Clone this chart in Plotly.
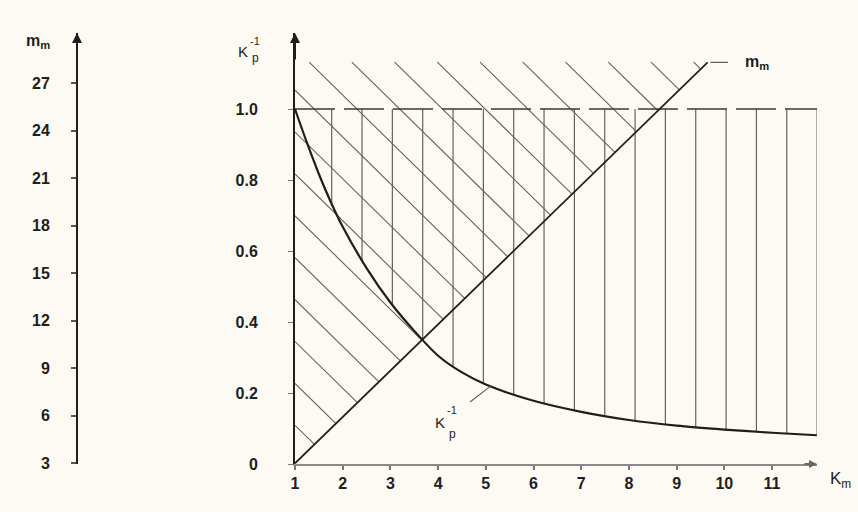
import numpy as np
import plotly.graph_objects as go

# ---------------- data ----------------
km_ticks = [1, 2, 3, 4, 5, 6, 7, 8, 9, 10, 11]
kp_ticks = [0, 0.2, 0.4, 0.6, 0.8, 1.0]
kp_ticktext = ["0", "0.2", "0.4", "0.6", "0.8", "1.0"]
mm_ticks = [3, 6, 9, 12, 15, 18, 21, 24, 27]

# K_p^-1 curve
curve_k = [1, 1.25, 1.5, 1.75, 2, 2.5, 3, 3.5, 4, 4.5, 5, 6, 7, 8, 9, 10, 11, 11.94]
curve_v = [1.0, 0.905, 0.817, 0.738, 0.668, 0.552, 0.455, 0.375, 0.305, 0.258, 0.224,
           0.178, 0.147, 0.124, 0.108, 0.097, 0.088, 0.081]

# m_m line (left axis units)
mline_k = [1, 9.65]
mline_m = [3, 28.3]

# hatching parameters
vert_start, vert_step, vert_count = 1.769, 0.636, 17
diag_slope, diag_c0, diag_step, diag_top = 0.1317, 1.171, 0.118, 1.132
dash_level = 1.0

# ---------------- layout geometry ----------------
W, H = 858, 512
ML, MR, MT, MB = 77, 41, 33, 48
x_range = [1, 11.943]
y_range = [0, 1.2141]
y2_range = [2.956, 30.16]
BG = "#fcfaf3"
INK = "#1e1e1e"
HATCH = "#626262"

def to_v(m):
    return (m - y2_range[0]) / (y2_range[1] - y2_range[0]) * (y_range[1] - y_range[0]) + y_range[0]

mline_v = [to_v(m) for m in mline_m]
line_slope = (mline_v[1] - mline_v[0]) / (mline_k[1] - mline_k[0])

fig = go.Figure()

# vertical hatching between curve and dashed level
vx, vy = [], []
for i in range(vert_count):
    k = vert_start + vert_step * i
    yb = float(np.interp(k, curve_k, curve_v))
    vx += [k, k, None]
    vy += [yb, dash_level, None]
fig.add_trace(go.Scatter(x=vx, y=vy, mode="lines", line=dict(color=HATCH, width=1.2),
                         hoverinfo="skip", showlegend=False))

# diagonal hatching above the m_m line
dx, dy = [], []
for j in range(-12, 20):
    c = diag_c0 + diag_step * j
    if c <= 0:
        continue
    t_start = max(0.0, (c - diag_top) / diag_slope)
    t_end = (c - mline_v[0]) / (diag_slope + line_slope)
    if t_end <= t_start:
        continue
    dx += [1 + t_start, 1 + t_end, None]
    dy += [c - diag_slope * t_start, c - diag_slope * t_end, None]
fig.add_trace(go.Scatter(x=dx, y=dy, mode="lines", line=dict(color=HATCH, width=1.1),
                         hoverinfo="skip", showlegend=False))

# dashed level line
fig.add_trace(go.Scatter(x=[x_range[0], vert_start + vert_step * (vert_count - 1)],
                         y=[dash_level, dash_level], mode="lines",
                         line=dict(color="#3a3a3a", width=1.5, dash="40px,9px"),
                         hoverinfo="skip", showlegend=False))

# K_p^-1 curve
fig.add_trace(go.Scatter(x=curve_k, y=curve_v, mode="lines",
                         line=dict(color=INK, width=2.2, shape="spline", smoothing=0.8),
                         showlegend=False))

# m_m line on left axis
fig.add_trace(go.Scatter(x=mline_k, y=mline_m, yaxis="y2", mode="lines",
                         line=dict(color=INK, width=1.7), showlegend=False))

tick_font = dict(family="Liberation Sans, Arial, sans-serif", size=16, color=INK)

fig.update_layout(
    width=W, height=H,
    margin=dict(l=ML, r=MR, t=MT, b=MB),
    paper_bgcolor=BG, plot_bgcolor=BG,
    xaxis=dict(domain=[(295 - ML) / (W - ML - MR), 1], range=x_range,
               tickvals=km_ticks, ticktext=[f"<b>{t}</b>" for t in km_ticks],
               showgrid=False, zeroline=False, showline=True, linecolor="#8a8a8a", linewidth=2,
               ticks="outside", ticklen=4, tickwidth=1.5, tickcolor="#777",
               tickfont=tick_font, ticklabelstandoff=0),
    yaxis=dict(range=y_range, tickvals=kp_ticks, ticktext=[f"<b>{t}</b>" for t in kp_ticktext],
               showgrid=False, zeroline=False, showline=True, linecolor=INK, linewidth=2,
               ticks="outside", ticklen=5, tickwidth=1, tickcolor="#777",
               tickfont=tick_font, ticklabelstandoff=27),
    yaxis2=dict(range=y2_range, overlaying="y", anchor="free", position=0, side="left",
                tickvals=mm_ticks, ticktext=[f"<b>{t}</b>" for t in mm_ticks],
                showgrid=False, zeroline=False, showline=True, linecolor=INK, linewidth=2,
                ticks="outside", ticklen=5, tickwidth=1.5, tickcolor="#555",
                tickfont=tick_font, ticklabelstandoff=18),
)

def px(xp):
    return (xp - ML) / (W - ML - MR)

def py(yp):
    return (H - MB - yp) / (H - MB - MT)

ann = []
# axis arrows
ann.append(dict(x=x_range[0], y=y_range[1], xref="x", yref="y", ax=0, ay=28,
                showarrow=True, arrowhead=2, arrowsize=1, arrowwidth=2, arrowcolor=INK, text=""))
ann.append(dict(x=0, y=y2_range[1], xref="paper", yref="y2", ax=0, ay=28,
                showarrow=True, arrowhead=2, arrowsize=1, arrowwidth=2, arrowcolor=INK, text=""))
ann.append(dict(x=x_range[1], y=0, xref="x", yref="y", ax=-14, ay=0,
                showarrow=True, arrowhead=2, arrowsize=0.8, arrowwidth=2, arrowcolor="#666", text=""))
# leader lines
kl = 5.1
ann.append(dict(x=kl, y=float(np.interp(kl, curve_k, curve_v)), xref="x", yref="y",
                ax=-22, ay=17, showarrow=True, arrowhead=0, arrowwidth=1.2, arrowcolor=HATCH, text=""))
ann.append(dict(x=mline_k[1] + 0.06, y=mline_m[1], xref="x", yref="y2",
                ax=19, ay=0, showarrow=True, arrowhead=0, arrowwidth=1.2, arrowcolor=HATCH, text=""))

lab_font = dict(family="Liberation Sans, Arial, sans-serif", color=INK)
def txt(x, y, s, size, xa="center", bold=False):
    ann.append(dict(x=px(x), y=py(y), xref="paper", yref="paper", showarrow=False,
                    text=(f"<b>{s}</b>" if bold else s), xanchor=xa, yanchor="middle",
                    font=dict(size=size, **lab_font)))

# left axis title m_m
txt(38, 41, "m<sub>m</sub>", 16, bold=True)
# K_p^-1 at top of main axis
txt(243, 51, "K", 15)
txt(255, 41, "-1", 11)
txt(255, 58, "p", 12)
# K_p^-1 label by curve
txt(440, 422, "K", 15)
txt(452, 410, "-1", 11)
txt(452, 434, "p", 12)
# m_m at end of line
txt(757, 62, "m<sub>m</sub>", 16, bold=True)
# K_m on x axis
txt(828, 480, "K<sub>m</sub>", 17, xa="left")

fig.update_layout(annotations=ann)
fig.write_html("out.html", config={"displayModeBar": False},
               post_script="document.body.style.margin='0';document.body.style.background='#fcfaf3';")
